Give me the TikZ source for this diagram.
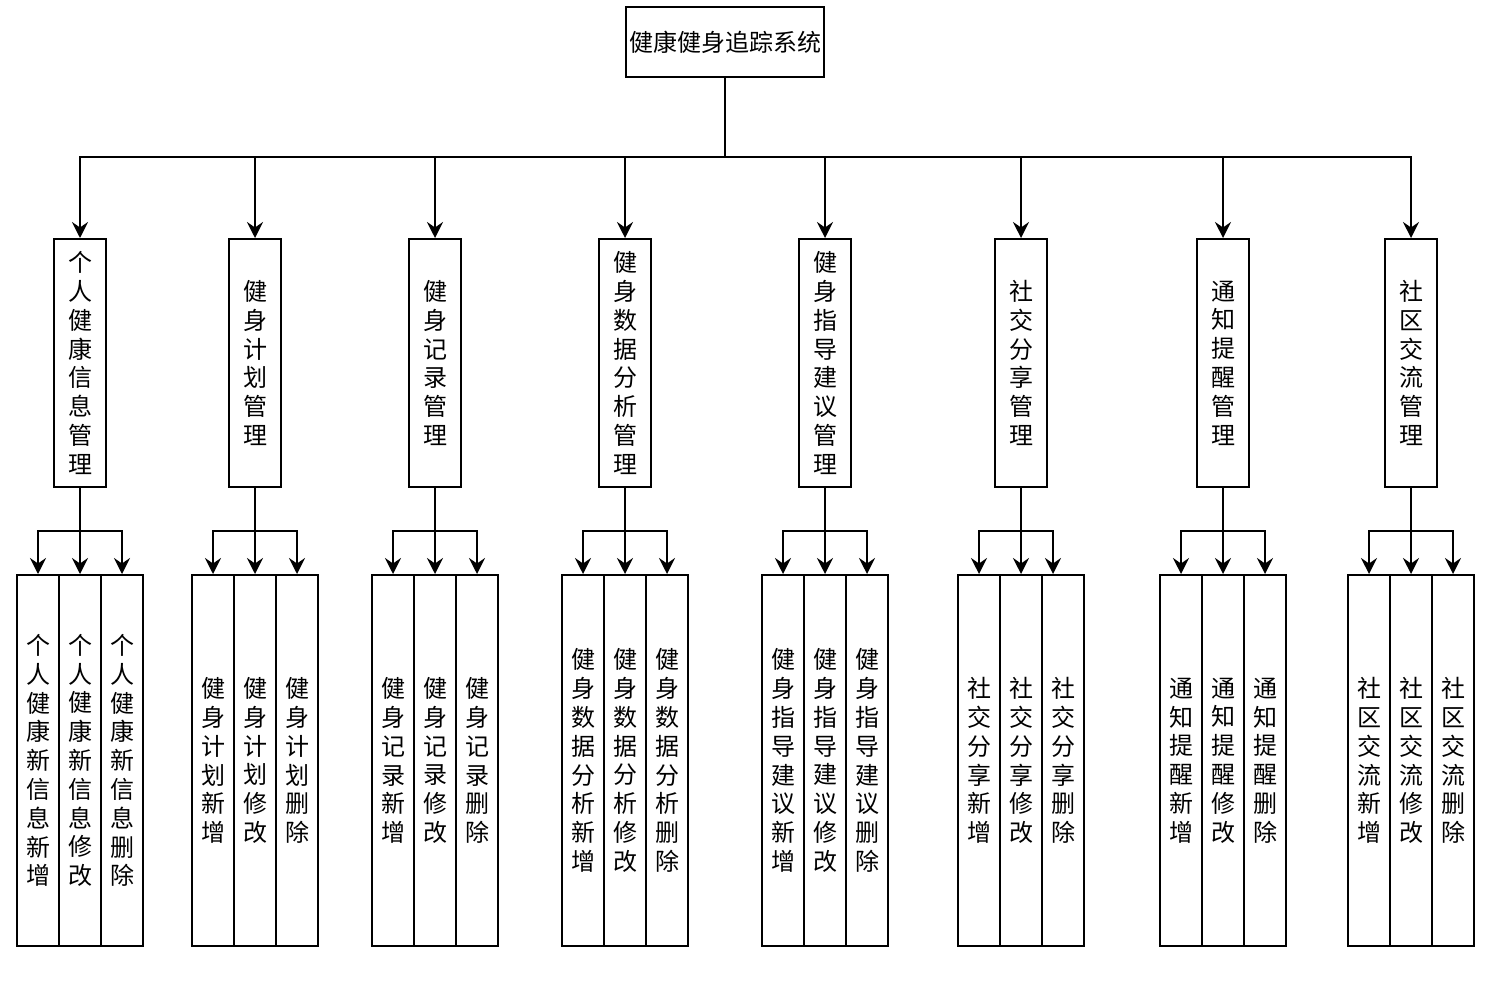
\documentclass[tikz,border=0pt]{standalone}
\usepackage{fontspec}
\newfontfamily\cjk{Noto Sans CJK SC}
\usetikzlibrary{arrows.meta}
\def\mkvert#1{\mkvertA#1\relax}
\def\mkvertA#1{#1\mkvertB}
\def\mkvertB#1{\ifx\relax#1\else\\#1\expandafter\mkvertB\fi}
\def\mkvertm#1{\expandafter\mkvert\expandafter{#1}}
\tikzset{
  box/.style={draw, line width=2pt, inner sep=0pt, align=center,
    font=\cjk\fontsize{24}{28.8}\selectfont},
  rootbox/.style={box, minimum width=198pt, minimum height=70pt},
  lvtwo/.style={box, minimum width=52pt, minimum height=248pt, text width=26pt},
  lvthree/.style={box, minimum width=42pt, minimum height=371pt, text width=26pt},
  arr/.style={line width=2pt, -{Stealth[length=16pt,width=16pt,inset=5.5pt]}}
}
\begin{document}
\begin{tikzpicture}[x=1pt,y=-1pt]
\useasboundingbox (0,0) rectangle (1511,995);
\node[rootbox] (root) at (725,42) {健康健身追踪系统};
\coordinate (busone) at (0,157);
\coordinate (busthree) at (0,531);
\foreach \i/\cx/\lab/\base/\rs in {
  1/80/个人健康信息管理/个人健康新信息/0,
  2/255/健身计划管理/健身计划/0,
  3/435/健身记录管理/健身记录/0,
  4/625/健身数据分析管理/健身数据分析/0,
  5/825/健身指导建议管理/健身指导建议/0,
  6/1021/社交分享管理/社交分享/-10,
  7/1223/通知提醒管理/通知提醒/0,
  8/1411/社区交流管理/社区交流/0} {
  \node[lvtwo] (n\i) at (\cx,363) {\mkvertm{\lab}};
  \node[lvthree] (n\i L) at (\cx-42,760.5) {\mkvertm{\base 新增}};
  \node[lvthree] (n\i M) at (\cx,760.5) {\mkvertm{\base 修改}};
  \node[lvthree] (n\i R) at (\cx+42,760.5) {\mkvertm{\base 删除}};
  \draw[arr] (root.south) -- (root.south |- busone) -| (n\i.north);
  \draw[arr] (n\i.south) -- (n\i.south |- busthree) -| (n\i L.north);
  \draw[arr] (n\i.south) -- (n\i M.north);
  \draw[arr] (n\i.south) -- (n\i.south |- busthree) -| ([xshift=\rs pt]n\i R.north);
}
\end{tikzpicture}
\end{document}
